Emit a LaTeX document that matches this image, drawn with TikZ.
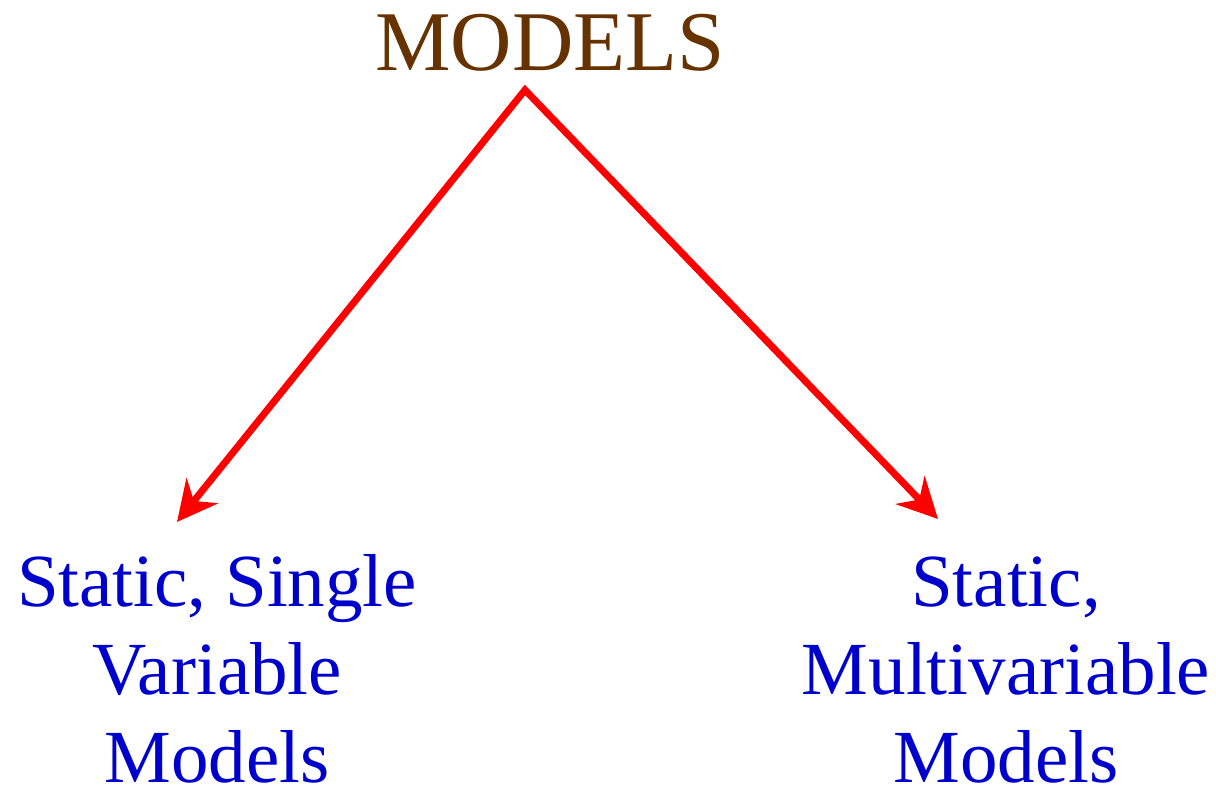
\documentclass[tikz,border=0pt]{standalone}
\usepackage{fontspec}
\setmainfont{Liberation Serif}
\usetikzlibrary{arrows.meta}
\definecolor{modbrown}{RGB}{102,51,0}
\definecolor{modblue}{RGB}{0,0,204}
\begin{document}
\begin{tikzpicture}[x=1pt,y=1pt,
  title/.style={text=modbrown,font=\fontsize{85}{100}\selectfont,inner sep=0pt,anchor=base},
  leaf/.style={text=modblue,font=\fontsize{75}{88}\selectfont,align=center,inner sep=0pt,text depth=0pt,anchor=base},
  link/.style={draw=red,line width=7pt,line join=miter,
    {Stealth[length=40pt,width=40pt,inset=13pt]}-{Stealth[length=40pt,width=40pt,inset=13pt]}}]
\useasboundingbox (0,0) rectangle (1216,788);
\node[title] (top) at (550,717) {MODELS};
\node[leaf] (left) at (217,6) {Static, Single\\Variable\\Models};
\node[leaf] (right) at (1006,6) {Static,\\Multivariable\\Models};
\coordinate (apex) at (525,698);
\coordinate (lt) at (177,266);
\coordinate (rt) at (938,269);
\draw[link] (lt) -- (apex) -- (rt);
\end{tikzpicture}
\end{document}
